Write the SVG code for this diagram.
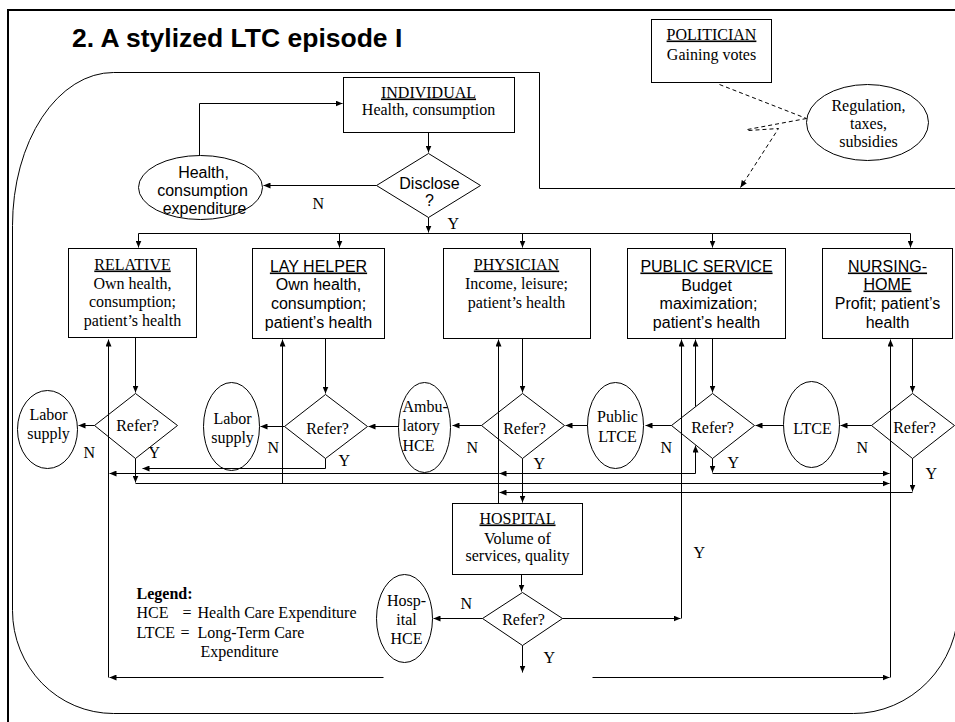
<svg xmlns="http://www.w3.org/2000/svg" width="955" height="722" viewBox="0 0 955 722">
<defs>
<marker id="ah" viewBox="0 0 7 6" refX="7" refY="3" markerWidth="7" markerHeight="6" orient="auto" markerUnits="userSpaceOnUse"><path d="M0,0 L7,3 L0,6 z" fill="#000"/></marker>
<style>
.s{fill:none;stroke:#000;stroke-width:1}
.c path{fill:none;stroke:#000;stroke-width:1}
.c .a{marker-end:url(#ah)}
.c .d{stroke-dasharray:4 3}
.t{font-family:"Liberation Serif","Times New Roman",serif;font-size:16px;fill:#000;text-anchor:middle}
.f{font-family:"Liberation Sans",Arial,sans-serif;font-size:16px;fill:#000;text-anchor:middle}
.l{text-anchor:start}
.u{text-decoration:underline}
</style>
</defs>
<rect x="0" y="0" width="955" height="722" fill="#fff"/>
<rect x="8" y="10" width="1000" height="800" fill="none" stroke="#000" stroke-width="2"/>
<text x="72" y="47" style="font-family:'Liberation Sans',Arial,sans-serif;font-size:26.5px;font-weight:bold">2. A stylized LTC episode I</text>
<g transform="translate(0.5,0.5)">
<path class="s" stroke="#222" d="M113,72 H539 V188 H958 V605 A105,108 0 0 1 853,713 H113 A101,103 0 0 1 12,610 V225 A101,153 0 0 1 113,72 Z"/>

<g id="politician"><rect class="s" x="651" y="19" width="120" height="63"/>
<text class="t u" x="711" y="39">POLITICIAN</text><text class="t" x="711" y="59">Gaining votes</text></g>
<g id="regulation"><ellipse class="s" cx="867" cy="122" rx="61" ry="38"/>
<text class="t" x="868" y="110">Regulation,</text><text class="t" x="868" y="128">taxes,</text><text class="t" x="868" y="146">subsidies</text></g>

<g id="individual"><rect class="s" x="343" y="77" width="171" height="55"/>
<text class="t u" x="428" y="97">INDIVIDUAL</text><text class="t" x="428" y="114">Health, consumption</text></g>
<g id="disclose"><polygon class="s" points="428,153 480,185 428,217 376,185"/>
<text class="f" x="429" y="188">Disclose</text><text class="f" x="429" y="205">?</text></g>
<g id="health-consumption"><ellipse class="s" cx="200" cy="187" rx="62" ry="32"/>
<text class="f" x="203" y="177">Health,</text><text class="f" x="202" y="195">consumption</text><text class="f" x="204" y="213">expenditure</text></g>

<g id="relative"><rect class="s" x="68" y="248" width="128" height="89"/>
<text class="t u" x="132" y="269">RELATIVE</text><text class="t" x="132" y="288">Own health,</text><text class="t" x="132" y="306">consumption;</text><text class="t" x="132" y="325">patient’s health</text></g>
<g id="lay-helper"><rect class="s" x="252" y="248" width="132" height="90"/>
<text class="f u" x="318" y="271">LAY HELPER</text><text class="f" x="318" y="289">Own health,</text><text class="f" x="318" y="308">consumption;</text><text class="f" x="318" y="327">patient’s health</text></g>
<g id="physician"><rect class="s" x="443" y="248" width="147" height="90"/>
<text class="t u" x="516" y="269">PHYSICIAN</text><text class="t" x="516" y="288">Income, leisure;</text><text class="t" x="516" y="307">patient’s health</text></g>
<g id="public-service"><rect class="s" x="627" y="248" width="158" height="90"/>
<text class="f u" x="706" y="271">PUBLIC SERVICE</text><text class="f" x="706" y="290">Budget</text><text class="f" x="708" y="308">maximization;</text><text class="f" x="706" y="327">patient’s health</text></g>
<g id="nursing-home"><rect class="s" x="822" y="248" width="130" height="90"/>
<text class="f u" x="887" y="271">NURSING-</text><text class="f u" x="887" y="289">HOME</text><text class="f" x="887" y="308">Profit; patient’s</text><text class="f" x="887" y="327">health</text></g>

<g id="refer-relative"><polygon class="s" points="135,393 177,425 135,458 94,425"/><text class="t" x="137" y="430">Refer?</text></g>
<g id="refer-lay"><polygon class="s" points="325,394 367,426 325,458 284,426"/><text class="t" x="327" y="433">Refer?</text></g>
<g id="refer-physician"><polygon class="s" points="522,393 564,425 522,458 481,425"/><text class="t" x="524" y="433">Refer?</text></g>
<g id="refer-public"><polygon class="s" points="712,393 754,425 712,458 671,425"/><text class="t" x="712" y="432">Refer?</text></g>
<g id="refer-nursing"><polygon class="s" points="912,393 954,425 912,458 871,425"/><text class="t" x="914" y="432">Refer?</text></g>

<g id="labor-supply-1"><ellipse class="s" cx="47" cy="429" rx="30" ry="39"/><text class="t" x="48" y="419">Labor</text><text class="t" x="48" y="438">supply</text></g>
<g id="labor-supply-2"><ellipse class="s" cx="231" cy="426" rx="28" ry="44"/><text class="t" x="232" y="423">Labor</text><text class="t" x="232" y="442">supply</text></g>
<g id="ambulatory-hce"><ellipse class="s" cx="424" cy="427" rx="26" ry="45"/><text class="t l" x="402" y="411">Ambu-</text><text class="t l" x="402" y="430">latory</text><text class="t l" x="402" y="450">HCE</text></g>
<g id="public-ltce"><ellipse class="s" cx="615" cy="425" rx="28" ry="43"/><text class="t" x="617" y="421">Public</text><text class="t" x="617" y="441">LTCE</text></g>
<g id="ltce"><ellipse class="s" cx="811" cy="424" rx="28" ry="43"/><text class="t" x="812" y="433">LTCE</text></g>

<g id="hospital"><rect class="s" x="452" y="503" width="130" height="71"/>
<text class="t u" x="517" y="523">HOSPITAL</text><text class="t" x="517" y="543">Volume of</text><text class="t" x="517" y="560">services, quality</text></g>
<g id="refer-hospital"><polygon class="s" points="522,592 562,618 522,645 482,618"/><text class="t" x="523" y="624">Refer?</text></g>
<g id="hospital-hce"><ellipse class="s" cx="404" cy="618" rx="28" ry="44"/><text class="t" x="406" y="605">Hosp-</text><text class="t" x="406" y="624">ital</text><text class="t" x="406" y="643">HCE</text></g>

<g id="legend">
<text class="t l" x="136" y="598" font-weight="bold">Legend:</text>
<text class="t l" x="136" y="617">HCE</text><text class="t l" x="182" y="617">=</text><text class="t l" x="197" y="617">Health Care Expenditure</text>
<text class="t l" x="136" y="637">LTCE</text><text class="t l" x="180" y="637">=</text><text class="t l" x="197" y="637">Long-Term Care</text>
<text class="t l" x="200" y="656">Expenditure</text>
</g>

<g id="labels">
<text class="t l" x="312" y="208">N</text><text class="t l" x="447" y="228">Y</text>
<text class="t l" x="83" y="457">N</text><text class="t l" x="148" y="457">Y</text>
<text class="t l" x="267" y="452">N</text><text class="t l" x="338" y="465">Y</text>
<text class="t l" x="466" y="452">N</text><text class="t l" x="533" y="468">Y</text>
<text class="t l" x="660" y="452">N</text><text class="t l" x="727" y="467">Y</text>
<text class="t l" x="856" y="452">N</text><text class="t l" x="925" y="478">Y</text>
<text class="t l" x="460" y="608">N</text><text class="t l" x="693" y="557">Y</text><text class="t l" x="543" y="662">Y</text>
</g>

<g id="connectors" class="c">
<path class="a" d="M428,132 V152"/>
<path class="a" d="M376,185 H263"/>
<path class="a" d="M199,155 V103 H342"/>
<path class="a" d="M428,217 V232"/>
<path d="M138,233 H910"/>
<path class="a" d="M138,233 V247"/>
<path class="a" d="M339,233 V247"/>
<path class="a" d="M522,233 V247"/>
<path class="a" d="M712,233 V247"/>
<path class="a" d="M910,233 V247"/>
<path class="a" d="M135,337 V392"/>
<path class="a" d="M325,338 V393"/>
<path class="a" d="M522,338 V392"/>
<path class="a" d="M712,338 V392"/>
<path class="a" d="M912,338 V392"/>
<path class="a" d="M94,425 H78"/>
<path class="a" d="M284,426 H260"/>
<path class="a" d="M398,426 H368"/>
<path class="a" d="M481,425 H452"/>
<path class="a" d="M587,425 H565"/>
<path class="a" d="M671,425 H645"/>
<path class="a" d="M783,425 H755"/>
<path class="a" d="M871,425 H840"/>
<path class="a" d="M135,458 V482"/>
<path class="a" d="M135,483 H889"/>
<path class="a" d="M325,458 V468 H142"/>
<path class="a" d="M695,473 H499"/>
<path class="a" d="M499,473 H109"/>
<path class="a" d="M695,473 V445"/>
<path class="a" d="M695,406 V339"/>
<path class="a" d="M712,458 V472"/>
<path class="a" d="M712,473 H889"/>
<path class="a" d="M912,458 V491"/>
<path class="a" d="M912,492 H499"/>
<path class="a" d="M522,458 V502"/>
<path class="a" d="M498,503 V339"/>
<path class="a" d="M282,483 V339"/>
<path class="a" d="M108,677 V339"/>
<path class="a" d="M890,677 V339"/>
<path class="a" d="M562,618 H680"/>
<path class="a" d="M681,618 V339"/>
<path class="a" d="M521,574 V591"/>
<path class="a" d="M482,618 H433"/>
<path class="a" d="M522,645 V672"/>
<path class="a" d="M383,677 H109"/>
<path class="a" d="M592,677 H889"/>
<path class="d" d="M719,84 L806,118"/>
<path class="d" d="M806,118 L747,129"/>
<path class="a d" d="M748,130 L778,128 L740,187"/>
</g>
</g>
</svg>
